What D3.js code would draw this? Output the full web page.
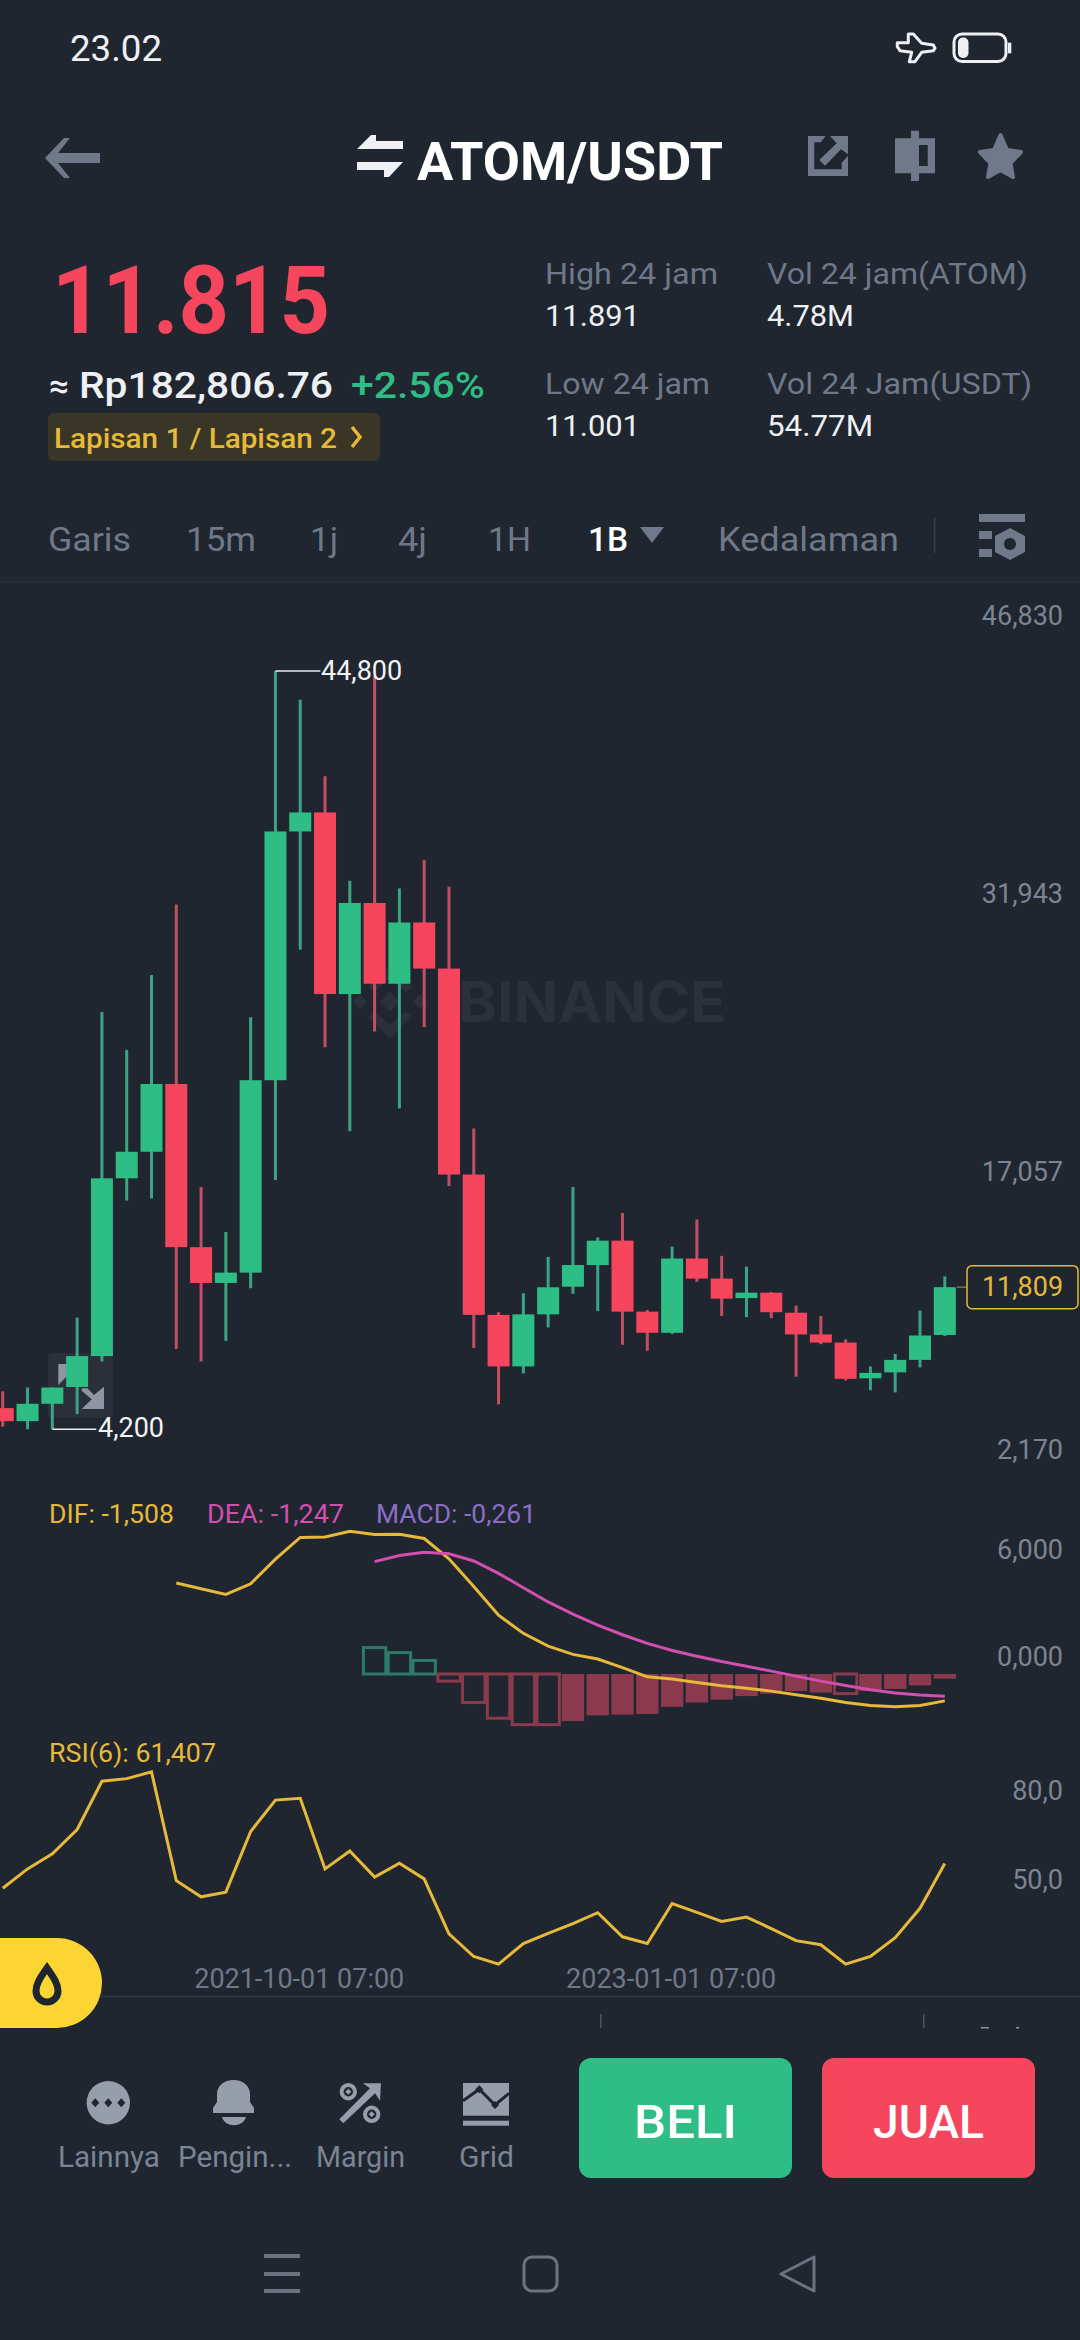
<!DOCTYPE html>
<html><head><meta charset="utf-8">
<script src="https://cdn.jsdelivr.net/npm/d3@7/dist/d3.min.js"></script>
<style>html,body{margin:0;padding:0;background:#1f2630;width:1080px;height:2340px;overflow:hidden}svg{display:block}text{font-family:Roboto,sans-serif}</style>
</head><body><svg id="c" width="1080" height="2340" viewBox="0 0 1080 2340"></svg>
<script>
// ---------- data ----------
const opens  = [5333,4636,5565,6465,8119,17637,19059,22687,13952,12036,12588,22890,36210,37226,27504,32379,28055,31335,28868,17840,10324,7567,10353,11833,12994,14300,10498,9367,13342,12269,11224,11514,10440,9280,8844,6929,7248,7916,9250];
const closes = [4636,5565,6436,8119,17637,19059,22687,13952,12036,12588,22890,36210,37226,27504,32379,28055,31335,28868,17840,10324,7567,10353,11804,12994,14300,10498,9367,13342,12269,11195,11514,10469,9280,8844,6900,7219,7916,9221,11809];
const highs  = [6232,6436,6436,10179,26546,24515,28520,32292,17173,14764,26256,44800,43262,39170,33569,44539,33163,34672,33250,20307,10469,11485,13429,17173,14474,15780,10585,13981,15432,13487,12907,11543,10818,10266,9018,7567,8235,10556,12385];
const lows   = [4346,4201,4200,5014,7829,16447,16564,8496,7829,8931,11746,17550,29884,24660,20162,25502,21381,25734,17231,8554,5536,7190,9657,11456,10527,8728,8409,9309,12094,10266,10208,10150,7016,8757,6813,6290,6174,7509,9192];
const difStart = 7;
const difValues = [5.10,4.78,4.46,5.06,6.44,7.66,7.68,8.00,7.82,7.84,7.60,6.46,4.90,3.30,2.28,1.56,1.10,0.84,0.36,-0.16,-0.28,-0.48,-0.66,-0.80,-0.96,-1.16,-1.36,-1.60,-1.76,-1.84,-1.76,-1.508];
const deaStart = 15;
const deaValues = [6.30,6.64,6.82,6.74,6.34,5.64,4.84,4.04,3.36,2.74,2.20,1.72,1.32,1.00,0.70,0.44,0.16,-0.12,-0.40,-0.64,-0.88,-1.06,-1.18,-1.247];
const macdValues = [1.48,1.20,0.76,-0.40,-1.60,-2.48,-2.84,-2.84,-2.64,-2.32,-2.28,-2.24,-1.84,-1.60,-1.44,-1.24,-1.10,-0.96,-1.04,-1.10,-0.96,-0.84,-0.64,-0.261];
const macdHollow = [1,1,1,1,1,1,1,1,0,0,0,0,0,0,0,0,0,0,0,1,0,0,0,0];
const rsiValues = [53.0,59.6,64.7,73.0,89.4,90.3,92.6,55.6,50.1,51.7,72.3,83.0,83.6,59.6,65.7,56.8,61.5,56.2,37.5,29.8,27.2,34.2,37.7,41.0,44.7,36.5,34.2,47.8,44.8,41.7,43.2,39.3,35.2,33.8,27.2,29.8,36.2,46.2,61.407];
const priceTicks = [46830,31943,17057,2170];
const macdTicks = [6,0];
const rsiTicks = [80,50];
const dateLabels = ["2021-10-01 07:00","2023-01-01 07:00"];
const dateIdx = [12,27];
const tabLabels = ["Garis","15m","1j","4j","1H","1B","Kedalaman"];
const toolLabels = ["Lainnya","Pengin...","Margin","Grid"];

// ---------- palette ----------
const BG="#1f2630",GREEN="#2ebd85",RED="#f6465d",GW="#3aa582",RW="#c44f62",AXIS="#7d8491",WHITE="#eef0f3",YEL="#e6b93a",ICO="#707989";
const MRED="#8a3a4c",MGREEN="#2c7a68";

const svg=d3.select("#c");
svg.append("rect").attr("width",1080).attr("height",2340).attr("fill",BG);

function T(p,x,y,s,size,fill,o={}){
  const t=p.append("text").attr("x",x).attr("y",y).attr("font-size",size).attr("fill",fill)
    .attr("font-weight",o.w||400).attr("text-anchor",o.a||"start").text(s);
  if(o.len){t.attr("textLength",o.len).attr("lengthAdjust","spacingAndGlyphs");}
  if(o.f)t.style("font-family",o.f);
  return t;
}

// ---------- scales ----------
const x=d3.scaleLinear().domain([0,38]).range([2.75,944.8]);
const yP=d3.scaleLinear().domain([2170,46830]).range([1467.2,633.1]);
const yM=d3.scaleLinear().domain([0,6]).range([1674,1567]);
const yR=d3.scaleLinear().domain([50,80]).range([1897.1,1808.9]);

// ---------- status + header ----------
const head=svg.append("g");
T(head,70,61,"23.02",37,WHITE,{len:92});
head.append("path").attr("fill","none").attr("stroke",WHITE).attr("stroke-width",3).attr("stroke-linejoin","round")
  .attr("d","M897.3 42.7 L908.3 42.7 L908.3 34 L913.3 34 L921.7 43.3 L933.3 45 L935 48.3 L933.3 50.7 L921.7 52.3 L915 61.7 L909.3 61.7 L911.7 52.3 L900 50.7 L897.3 46.7 Z");
head.append("rect").attr("x",954).attr("y",34).attr("width",52).attr("height",27.5).attr("rx",8).attr("fill","none").attr("stroke",WHITE).attr("stroke-width",3);
head.append("rect").attr("x",958).attr("y",37.5).attr("width",10.5).attr("height",20.5).attr("rx",5).attr("fill",WHITE);
head.append("rect").attr("x",1008).attr("y",42.7).attr("width",3.3).attr("height",10.6).attr("fill",WHITE);
// back arrow
head.append("path").attr("fill",ICO).attr("d","M64 138 L45 158 L64 178 L70 178 L58 163 L100 163 L100 153 L58 153 L70 138 Z");
// swap icon
head.append("path").attr("fill",WHITE).attr("d","M357 149 L371 135 L376 135 L376 141 L403 141 L403 149 Z M357 162 L403 162 L389 177 L384 177 L384 170 L357 170 Z");
T(head,417,180,"ATOM/USDT",53,"#ffffff",{w:700,len:306});
// share icon
head.append("rect").attr("x",808).attr("y",136).attr("width",40).attr("height",40).attr("fill",ICO);
head.append("path").attr("fill",BG).attr("d","M814.3 142.3 L820.7 142.3 L825.7 136 L830 136 L836.7 143.3 L819.3 160 L825 165.7 L841 149.3 L848 154.3 L848 156 L841.7 162.7 L841.7 169.3 L814.3 169.3 Z");
// candle icon
head.append("path").attr("fill",ICO).attr("fill-rule","evenodd").attr("d","M895 138.3 L911 138.3 L911 130.7 L919 130.7 L919 138.3 L935 138.3 L935 173.3 L919 173.3 L919 181 L911 181 L911 173.3 L895 173.3 Z M919 145 L919 166 L927.7 166 L927.7 145 Z");
// star
head.append("path").attr("fill",ICO).attr("stroke",ICO).attr("stroke-width",4).attr("stroke-linejoin","round").attr("d","M1000.5 135 L1007 150 L1021 152 L1010.5 163 L1013 177 L1000.5 170 L988 177 L990.5 163 L980 152 L994 150 Z");

// price block
T(head,52,333,"11.815",95,RED,{w:700,len:278});
T(head,49,398,"≈",35,WHITE,{w:500});
T(head,79,398,"Rp182,806.76",37,WHITE,{w:500,len:254});
T(head,351,398,"+2.56%",37,GREEN,{w:500,len:134});
head.append("rect").attr("x",48).attr("y",413).attr("width",332).attr("height",48).attr("rx",6).attr("fill","#393628");
T(head,54,448,"Lapisan 1 / Lapisan 2",27,YEL,{w:500,len:283});
head.append("path").attr("fill","none").attr("stroke",YEL).attr("stroke-width",3.5).attr("d","M352 427 L360 437 L352 447");
// stats
T(head,545,284,"High 24 jam",30,"#6f7887",{len:173});
T(head,545,326,"11.891",30,WHITE,{len:95});
T(head,767,284,"Vol 24 jam(ATOM)",30,"#6f7887",{len:261});
T(head,767,326,"4.78M",30,WHITE,{len:87});
T(head,545,394,"Low 24 jam",30,"#6f7887",{len:165});
T(head,545,436,"11.001",30,WHITE,{len:95});
T(head,767,394,"Vol 24 Jam(USDT)",30,"#6f7887",{len:265});
T(head,767,436,"54.77M",30,WHITE,{len:106});
// tabs
const tabX=[48,186,310,398,488,588,718],tabW=[83,70,28,29,43,40,181];
tabLabels.forEach((s,i)=>T(head,tabX[i],551,s,33,i===5?"#ffffff":"#6f7887",{len:tabW[i],w:i===5?500:400}));
head.append("path").attr("fill",ICO).attr("d","M640 527 L664 527 L652 543 Z");
head.append("rect").attr("x",934).attr("y",518).attr("width",1.5).attr("height",35).attr("fill","#343b47");
head.append("rect").attr("x",979).attr("y",514).attr("width",46).attr("height",8).attr("fill",ICO);
head.append("rect").attr("x",979).attr("y",531).attr("width",13).attr("height",8).attr("fill",ICO);
head.append("rect").attr("x",979).attr("y",549).attr("width",13).attr("height",8).attr("fill",ICO);
head.append("path").attr("fill",ICO).attr("fill-rule","evenodd").attr("d","M1010 528 L1025 536 L1025 552 L1010 560 L995 552 L995 536 Z M1010 538 a6 6 0 1 0 .01 0 Z");
svg.append("rect").attr("x",0).attr("y",581).attr("width",1080).attr("height",1.5).attr("fill","#2a313c");

// ---------- watermark ----------
const wm=svg.append("g"),WMC="#2b303b";
wm.append("path").attr("fill",WMC).attr("d","M390 991.7 L400 1001.7 L390 1011.7 L380 1001.7 Z M360 994.2 L367.5 1001.7 L360 1009.2 L352.5 1001.7 Z M420 994.2 L427.5 1001.7 L420 1009.2 L412.5 1001.7 Z M390 1038.3 L368.3 1016.7 L374 1011 L390 1025 L406 1011 L411.7 1016.7 Z M390 965 L368.3 986.7 L374 992.4 L390 978 L406 992.4 L411.7 986.7 Z");
T(wm,458,1022,"BINANCE",57,WMC,{w:700,len:268,f:"Inter,Roboto,sans-serif"});

// ---------- expand icon under candles ----------
const ex=svg.append("g");
ex.append("rect").attr("x",48).attr("y",1353).attr("width",65).attr("height",65).attr("rx",4).attr("fill","#2a2f3a");
ex.append("path").attr("fill","#8e95a3").attr("d","M58.3 1364 L70 1364 L70 1373 L58.3 1385 Z M81.7 1388.3 L87.3 1388.3 L94 1395 L104 1386.7 L104 1409 L81.7 1409 L91.7 1399.3 L81.7 1390.7 Z");

// ---------- axes ----------
function rAxis(sc,ticks,fmt){
  const g=svg.append("g").attr("transform","translate(1063,0)")
    .call(d3.axisRight(sc).tickValues(ticks).tickSize(0).tickPadding(0).tickFormat(fmt));
  g.select(".domain").remove();
  g.selectAll("text").attr("text-anchor","end").attr("dy",null).attr("y",-9).attr("font-size",27)
    .attr("fill",AXIS).style("font-family","Roboto,sans-serif");
}
rAxis(yP,priceTicks,d3.format(","));
rAxis(yM,macdTicks,v=>d3.format(".3f")(v).replace(".",","));
rAxis(yR,rsiTicks,v=>d3.format(".1f")(v).replace(".",","));

// ---------- candles ----------
const idx=d3.range(opens.length);
const cg=svg.append("g");
cg.selectAll("line").data(idx).join("line")
  .attr("x1",i=>x(i)).attr("x2",i=>x(i)).attr("y1",i=>yP(highs[i])).attr("y2",i=>yP(lows[i]))
  .attr("stroke",i=>closes[i]>=opens[i]?GW:RW).attr("stroke-width",3);
cg.selectAll("rect").data(idx).join("rect")
  .attr("x",i=>x(i)-11).attr("width",22)
  .attr("y",i=>yP(Math.max(opens[i],closes[i])))
  .attr("height",i=>Math.max(1,yP(Math.min(opens[i],closes[i]))-yP(Math.max(opens[i],closes[i]))))
  .attr("fill",i=>closes[i]>=opens[i]?GREEN:RED);

// hi / lo markers
const hiI=highs.indexOf(d3.max(highs)),loI=lows.indexOf(d3.min(lows));
svg.append("path").attr("fill","none").attr("stroke","#e8eaed").attr("stroke-width",1.5)
  .attr("d",`M${x(hiI)} ${yP(d3.max(highs))} H${x(hiI)+45}`);
T(svg,321,680,d3.format(",")(d3.max(highs)),27,"#f2f3f5");
svg.append("path").attr("fill","none").attr("stroke","#e8eaed").attr("stroke-width",1.5)
  .attr("d",`M${x(loI)} ${yP(d3.min(lows))} H${x(loI)+44}`);
T(svg,98,1437,d3.format(",")(d3.min(lows)),27,"#f2f3f5");

// last price box
const last=closes[closes.length-1];
svg.append("path").attr("stroke","#8a7430").attr("stroke-width",1.5).attr("d",`M957 ${yP(last)} H966`);
svg.append("rect").attr("x",967).attr("y",yP(last)-21.5).attr("width",111).attr("height",43).attr("rx",5).attr("fill",BG).attr("stroke",YEL).attr("stroke-width",1.5);
T(svg,1022.5,yP(last)+9,d3.format(",")(last),27,YEL,{a:"middle"});

// ---------- MACD ----------
T(svg,49,1522.5,"DIF: -1,508",26,YEL,{len:125});
T(svg,207,1522.5,"DEA: -1,247",26,"#d24fb0",{len:137});
T(svg,376,1522.5,"MACD: -0,261",26,"#8a6fc4",{len:160});
const mg=svg.append("g");
macdValues.forEach((v,k)=>{
  const i=deaStart+k,h=macdHollow[k],col=v>=0?MGREEN:MRED;
  const y0=yM(Math.max(v,0)),y1=yM(Math.min(v,0));
  mg.append("rect").attr("x",x(i)-11.2).attr("width",22.4).attr("y",y0).attr("height",y1-y0)
    .attr("fill",h?"none":col).attr("stroke",h?col:"none").attr("stroke-width",h?3:0);
});
const lineM=d3.line().x(d=>x(d[0])).y(d=>yM(d[1]));
svg.append("path").attr("fill","none").attr("stroke","#e6b93a").attr("stroke-width",3)
  .attr("d",lineM(difValues.map((v,k)=>[difStart+k,v])));
svg.append("path").attr("fill","none").attr("stroke","#d24fb0").attr("stroke-width",3)
  .attr("d",lineM(deaValues.map((v,k)=>[deaStart+k,v])));

// ---------- RSI ----------
T(svg,49,1762,"RSI(6): 61,407",26,YEL,{len:167});
svg.append("path").attr("fill","none").attr("stroke","#e6b93a").attr("stroke-width",3)
  .attr("d",d3.line().x((v,i)=>x(i)).y(v=>yR(v))(rsiValues));

// dates
dateLabels.forEach((s,i)=>T(svg,x(dateIdx[i])-1,1988,s,27,"#6f7887",{a:"middle",len:210}));
svg.append("rect").attr("x",0).attr("y",1995.5).attr("width",1080).attr("height",2).attr("fill","#2e3541");
svg.append("rect").attr("x",600).attr("y",2014).attr("width",1.5).attr("height",14).attr("fill","#4a5260");
svg.append("rect").attr("x",923).attr("y",2014).attr("width",1.5).attr("height",14).attr("fill","#4a5260");
svg.append("rect").attr("x",981).attr("y",2027).attr("width",8).attr("height",1.5).attr("fill","#8a93a1");
svg.append("rect").attr("x",1016).attr("y",2027).attr("width",3).attr("height",1.5).attr("fill","#8a93a1");

// flame button
svg.append("path").attr("fill","#fcd535").attr("d","M0 1938 H57 A45 45 0 0 1 57 2028 H0 Z");
svg.append("path").attr("fill","none").attr("stroke",BG).attr("stroke-width",7).attr("d","M47 1968 C40 1978 36 1984 36 1991 A11 11 0 0 0 58 1991 C58 1984 54 1978 47 1968 Z");

// ---------- toolbar ----------
const tb=svg.append("g"),IC="#969dab";
tb.append("circle").attr("cx",108.3).attr("cy",2102.7).attr("r",21.7).attr("fill",IC);
[-13,0,13].forEach(d=>tb.append("path").attr("fill",BG).attr("d",`M${108.3+d} 2098.2 l4 4.5 l-4 4.5 l-4 -4.5 Z`));
tb.append("path").attr("fill",IC).attr("d","M213 2113 V2108 L217 2102 V2094 C217 2086 224 2080 233.5 2080 C243 2080 250 2086 250 2094 V2102 L254 2108 V2113 Z M222 2117 H246 C243 2128 225 2128 222 2117 Z");
tb.append("path").attr("fill",IC).attr("d","M381 2083.3 L362.7 2083.3 L370 2088.3 L339.3 2119.3 L343.3 2123.3 L375 2093.3 L380 2100.7 Z");
[[348.3,2091.7],[371.7,2114.3]].forEach(c=>{
  tb.append("circle").attr("cx",c[0]).attr("cy",c[1]).attr("r",6.7).attr("fill","none").attr("stroke",IC).attr("stroke-width",4);
  tb.append("path").attr("fill",IC).attr("d",`M${c[0]} ${c[1]-3} l3 3 l-3 3 l-3 -3 Z`);
});
tb.append("rect").attr("x",463).attr("y",2083).attr("width",46).attr("height",32.7).attr("fill",IC);
tb.append("path").attr("fill","none").attr("stroke",BG).attr("stroke-width",3).attr("d","M463 2100.7 L479.3 2089.3 L495 2105 L509 2093.3");
[[479.3,2089.3],[495,2105]].forEach(c=>tb.append("path").attr("fill",BG).attr("d",`M${c[0]} ${c[1]-4} l4 4 l-4 4 l-4 -4 Z`));
tb.append("rect").attr("x",463).attr("y",2120.7).attr("width",46).attr("height",5).attr("fill",IC);
const toolX=[58,178,316,459],toolW=[102,114,89,55];
toolLabels.forEach((s,i)=>T(tb,toolX[i],2167,s,29,"#7b8493",{len:toolW[i]}));
tb.append("rect").attr("x",579).attr("y",2058).attr("width",213).attr("height",120).attr("rx",12).attr("fill",GREEN);
tb.append("rect").attr("x",822).attr("y",2058).attr("width",213).attr("height",120).attr("rx",12).attr("fill",RED);
T(tb,634,2138,"BELI",47,"#ffffff",{w:500,len:103});
T(tb,873,2138,"JUAL",47,"#ffffff",{w:500,len:111});

// ---------- nav bar ----------
const nv=svg.append("g"),NC="#6b7280";
[2256,2274,2291].forEach(y=>nv.append("rect").attr("x",264).attr("y",y-2).attr("width",36).attr("height",4).attr("fill",NC));
nv.append("rect").attr("x",524).attr("y",2257).attr("width",33).attr("height",34).attr("rx",8).attr("fill","none").attr("stroke",NC).attr("stroke-width",3);
nv.append("path").attr("fill","none").attr("stroke",NC).attr("stroke-width",3).attr("stroke-linejoin","round").attr("d","M814 2257 L781 2274 L814 2291 Z");
</script></body></html>
